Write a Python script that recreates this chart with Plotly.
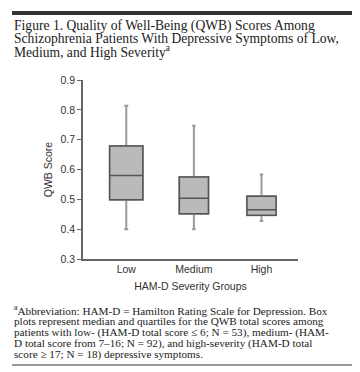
import plotly.graph_objects as go

categories = ["Low", "Medium", "High"]
lower_whisker = [0.400, 0.400, 0.427]
q1 = [0.499, 0.452, 0.447]
median = [0.580, 0.504, 0.465]
q3 = [0.679, 0.575, 0.510]
upper_whisker = [0.814, 0.747, 0.583]
box_widths = [0.49, 0.43, 0.43]

y_ticks = [0.3, 0.4, 0.5, 0.6, 0.7, 0.8, 0.9]

title_lines = [
    "Figure 1. Quality of Well-Being (QWB) Scores Among",
    "Schizophrenia Patients With Depressive Symptoms of Low,",
    "Medium, and High Severity<sup>a</sup>",
]
footnote_lines = [
    "<sup>a</sup>Abbreviation: HAM-D = Hamilton Rating Scale for Depression. Box",
    "plots represent median and quartiles for the QWB total scores among",
    "patients with low- (HAM-D total score ≤ 6; N = 53), medium- (HAM-",
    "D total score from 7–16; N = 92), and high-severity (HAM-D total",
    "score ≥ 17; N = 18) depressive symptoms.",
]

W, H = 360, 372
L, R, T, B = 75, 290, 72, 251

fig = go.Figure()

for i, c in enumerate(categories):
    # whiskers (lighter gray)
    fig.add_trace(go.Box(
        x=[c], q1=[q1[i]], median=[median[i]], q3=[q3[i]],
        lowerfence=[lower_whisker[i]], upperfence=[upper_whisker[i]],
        width=box_widths[i], whiskerwidth=0.12,
        fillcolor="#bababa", line=dict(color="#9a9a9a", width=2),
        showlegend=False, hoverinfo="skip",
    ))
    # box outline (darker gray), no whiskers
    fig.add_trace(go.Box(
        x=[c], q1=[q1[i]], median=[median[i]], q3=[q3[i]],
        lowerfence=[q1[i]], upperfence=[q3[i]],
        width=box_widths[i], whiskerwidth=0,
        fillcolor="#bababa", line=dict(color="#555555", width=1.5),
        showlegend=False, hoverinfo="skip",
    ))

def px_x(px):
    return (px - L) / (R - L)

def px_y(py):
    return (B - py) / (B - T)

shapes = [
    dict(type="line", xref="paper", yref="paper",
         x0=px_x(4), x1=px_x(356), y0=px_y(5), y1=px_y(5),
         line=dict(color="#333333", width=4)),
    dict(type="line", xref="paper", yref="paper",
         x0=px_x(4), x1=px_x(356), y0=px_y(357), y1=px_y(357),
         line=dict(color="#777777", width=1.5)),
]

annotations = []
for t, cy in zip(title_lines, [18, 31, 44]):
    annotations.append(dict(
        text=t, xref="paper", yref="paper", x=px_x(4), y=px_y(cy),
        xanchor="left", yanchor="middle", showarrow=False,
        font=dict(family="Liberation Serif", size=13.6, color="#222222"),
    ))
for t, cy in zip(footnote_lines, [302, 313, 324, 335, 346]):
    annotations.append(dict(
        text=t, xref="paper", yref="paper", x=px_x(4), y=px_y(cy),
        xanchor="left", yanchor="middle", showarrow=False,
        font=dict(family="Liberation Serif", size=11.2, color="#222222"),
    ))

fig.update_layout(
    width=W, height=H,
    margin=dict(l=L, r=W - R, t=T, b=H - B, pad=0),
    paper_bgcolor="white", plot_bgcolor="white",
    boxmode="overlay",
    shapes=shapes, annotations=annotations,
    font=dict(family="Liberation Sans", size=10, color="#333333"),
    xaxis=dict(
        range=[-0.64, 2.54], showline=True, linecolor="#666666", linewidth=1.5,
        ticks="", showgrid=False, zeroline=False,
        title=dict(text="HAM-D Severity Groups", standoff=8,
                   font=dict(size=10.5, color="#333333")),
        tickfont=dict(size=10.5, color="#333333"),
    ),
    yaxis=dict(
        range=[0.3, 0.9], tickvals=y_ticks, tickformat=".1f",
        showline=True, linecolor="#666666", linewidth=1.5,
        ticks="outside", ticklen=4, tickcolor="#666666", tickwidth=1,
        showgrid=False, zeroline=False,
        title=dict(text="QWB Score", standoff=6,
                   font=dict(size=10.5, color="#333333")),
        tickfont=dict(size=10.5, color="#333333"),
    ),
)

fig.write_html("out.html")
